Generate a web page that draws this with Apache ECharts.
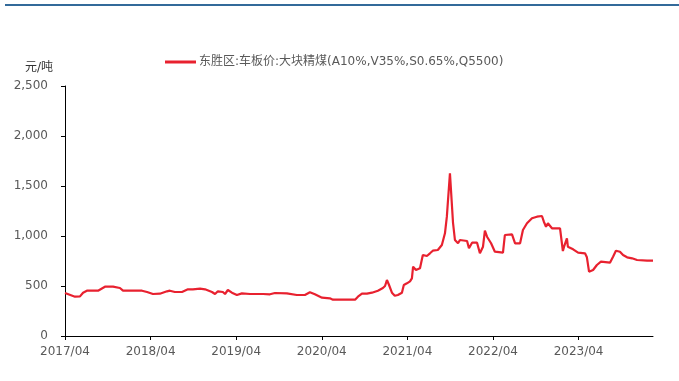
<!DOCTYPE html>
<html>
<head>
<meta charset="utf-8">
<script src="https://cdn.jsdelivr.net/npm/echarts@6/dist/echarts.min.js"></script>
<style>html,body{margin:0;padding:0;background:#fff}#c{width:679px;height:381px}</style>
</head>
<body>
<div id="c"></div>
<script>
var seriesName = '东胜区:车板价:大块精煤(A10%,V35%,S0.65%,Q5500)';
var unitLabel = '元/吨';
var tickLabels = ['2017/04','2018/04','2019/04','2020/04','2021/04','2022/04','2023/04'];
var axisStart = '2017-04-01';
var axisEnd = '2024-02-14';
var dates = ['2017-04-01','2017-04-09','2017-05-13','2017-06-04','2017-06-17','2017-07-03','2017-08-20','2017-09-19','2017-10-23','2017-11-22','2017-12-05','2018-02-25','2018-03-16','2018-04-11','2018-05-10','2018-06-10','2018-06-22','2018-07-13','2018-08-13','2018-09-08','2018-09-29','2018-10-29','2018-11-20','2018-12-19','2019-01-02','2019-01-14','2019-02-05','2019-02-14','2019-02-26','2019-03-13','2019-04-04','2019-04-25','2019-05-29','2019-07-24','2019-08-23','2019-09-14','2019-11-04','2019-12-16','2020-01-20','2020-02-11','2020-03-02','2020-04-02','2020-05-05','2020-05-18','2020-08-21','2020-09-03','2020-09-20','2020-10-11','2020-11-02','2020-11-27','2020-12-18','2020-12-27','2021-01-05','2021-01-13','2021-01-26','2021-02-08','2021-02-21','2021-03-08','2021-03-16','2021-03-29','2021-04-12','2021-04-20','2021-04-25','2021-05-07','2021-05-24','2021-06-06','2021-06-23','2021-07-06','2021-07-18','2021-08-09','2021-08-26','2021-09-09','2021-09-17','2021-09-21','2021-09-30','2021-10-08','2021-10-13','2021-10-21','2021-11-04','2021-11-12','2021-12-12','2021-12-20','2022-01-03','2022-01-24','2022-02-06','2022-02-19','2022-02-27','2022-03-06','2022-03-10','2022-03-23','2022-04-09','2022-05-13','2022-05-21','2022-06-21','2022-07-04','2022-07-25','2022-08-07','2022-08-24','2022-09-15','2022-10-06','2022-10-27','2022-11-05','2022-11-14','2022-11-22','2022-12-09','2023-01-13','2023-01-25','2023-01-30','2023-02-12','2023-02-16','2023-03-08','2023-03-29','2023-04-28','2023-05-06','2023-05-15','2023-06-02','2023-06-18','2023-07-05','2023-07-13','2023-08-13','2023-08-26','2023-09-08','2023-09-25','2023-10-08','2023-10-25','2023-11-16','2023-12-07','2024-01-19','2024-02-14'];
var prices = [430,433,393,396,433,453,453,493,493,480,453,453,440,420,423,447,453,440,440,467,467,473,467,440,420,447,440,420,460,433,410,426,420,420,417,430,427,410,410,437,417,383,377,363,363,393,423,423,433,453,480,500,560,515,433,403,410,433,510,527,547,577,693,660,677,810,800,827,853,860,910,1027,1193,1330,1627,1610,1130,960,927,960,950,877,933,933,827,893,1053,993,1000,927,843,833,1010,1017,927,927,1060,1127,1177,1193,1200,1143,1093,1127,1077,1077,850,893,977,893,867,833,827,787,643,660,710,743,727,733,793,853,843,810,787,777,760,753,753];

function monthOffset(s){
  var p = s.split('-').map(Number);
  var b = axisStart.split('-').map(Number);
  return (p[0]-b[0])*12 + (p[1]-b[1]) + (p[2]-b[2])/30;
}
var data = dates.map(function(d,i){ return [monthOffset(d), prices[i]]; });
var tickVals = tickLabels.map(function(t,i){ return i*12; });
var FONT = '"DejaVu Sans", "Noto Sans CJK SC", sans-serif';

var chart = echarts.init(document.getElementById('c'));
chart.setOption({
  animation:false,
  backgroundColor:'#fff',
  grid:{left:65, right:26, top:86, bottom:45, containLabel:false},
  legend:{
    top:51, left:160,
    itemWidth:31, itemHeight:3, itemGap:10,
    icon:'rect',
    textStyle:{fontFamily:FONT, fontSize:12, color:'#595959', padding:[0,0,0,-2]},
    data:[seriesName]
  },
  graphic:[
    {type:'rect', shape:{x:5, y:4, width:674, height:2}, style:{fill:'#336a9a'}},
    {type:'text', left:25, top:62, style:{text:unitLabel, fontFamily:FONT, fontSize:12, fill:'#333'}}
  ],
  xAxis:{
    type:'value', min:0, max:monthOffset(axisEnd), interval:12,
    axisLine:{lineStyle:{color:'#000', width:1}},
    axisTick:{show:true, length:4, lineStyle:{color:'#000'}, customValues:tickVals},
    axisLabel:{customValues:tickVals, color:'#595959', fontSize:12, fontFamily:FONT, margin:10,
      formatter:function(v){ var i = Math.round(v/12); return tickLabels[i] || ''; }},
    splitLine:{show:false}
  },
  yAxis:{
    type:'value', min:0, max:2500, interval:500,
    axisLine:{show:true, lineStyle:{color:'#000', width:1}},
    axisTick:{show:true, length:4, lineStyle:{color:'#000'}},
    axisLabel:{color:'#595959', fontSize:12, fontFamily:FONT, margin:17,
      formatter:function(v){ return v.toLocaleString('en-US'); }},
    splitLine:{show:false}
  },
  series:[{
    name:seriesName, type:'line', data:data, showSymbol:false, symbol:'none',
    lineStyle:{color:'#e8212f', width:2.2}, itemStyle:{color:'#e8212f'}
  }]
});
</script>
</body>
</html>
